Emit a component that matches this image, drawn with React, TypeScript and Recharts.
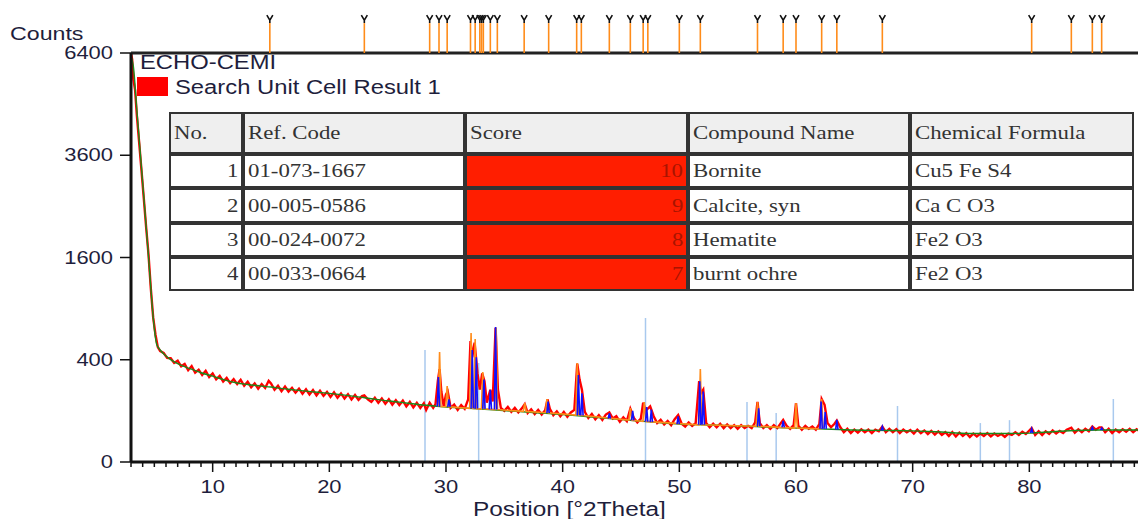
import React from 'react';
import { ComposedChart, Line, XAxis, YAxis, ReferenceLine } from 'recharts';

type Pt = [number, number];
type Peak = [number, number, number]; // position, base, top

const yTicks = [0, 400, 1600, 3600, 6400];
const xMajor = [10, 20, 30, 40, 50, 60, 70, 80];

const obsStart: Pt[] = [
  [3.0, 6400], [3.1, 6200], [3.2, 5600], [3.35, 5300], [3.5, 4600], [3.7, 3900], [3.9, 3250],
  [4.1, 2650], [4.3, 2100], [4.5, 1650], [4.7, 1150], [4.9, 800], [5.1, 620], [5.3, 505], [5.5, 470],
];
const obsLow: Pt[] = [
  [5.8, 455], [6.1, 415], [6.4, 412], [6.7, 375], [7.0, 392], [7.3, 350], [7.6, 368], [7.9, 322],
  [8.2, 352], [8.5, 305], [8.8, 326], [9.1, 290], [9.4, 318], [9.7, 276], [10.0, 300], [10.3, 262],
  [10.6, 284], [10.9, 248], [11.2, 270], [11.5, 238], [11.8, 262], [12.1, 232], [12.4, 258], [12.7, 222],
  [13.0, 246], [13.3, 214], [13.6, 236], [13.9, 206], [14.2, 232], [14.5, 210], [14.8, 252], [15.0, 236],
  [15.3, 200], [15.6, 222], [15.9, 192], [16.2, 218], [16.5, 190], [16.8, 210], [17.1, 184], [17.4, 206],
  [17.7, 178], [18.0, 202], [18.3, 174], [18.6, 198], [18.9, 170], [19.2, 194], [19.5, 168], [19.8, 188],
  [20.1, 162], [20.4, 186], [20.7, 158], [21.0, 180], [21.3, 154], [21.6, 176], [21.9, 150], [22.2, 172],
  [22.5, 148], [22.8, 166], [23.0, 170], [23.3, 150], [23.6, 138], [23.9, 158], [24.2, 134], [24.5, 154],
  [24.8, 130], [25.1, 150], [25.4, 126], [25.7, 146], [26.0, 124], [26.3, 144], [26.6, 118], [26.9, 138],
  [27.2, 114], [27.5, 134], [27.8, 112], [28.1, 132], [28.3, 104], [28.6, 134],
];
const obsMid: Pt[] = [
  [28.9, 112], [29.1, 128], [29.3, 250], [29.45, 330], [29.6, 190], [29.8, 120], [30.0, 175], [30.15, 190],
  [30.4, 112], [30.7, 126], [31.0, 104], [31.3, 124], [31.6, 108], [31.9, 150], [32.1, 560], [32.25, 420],
  [32.45, 545], [32.7, 300], [32.9, 200], [33.1, 300], [33.3, 250], [33.5, 135], [33.8, 200], [34.0, 140],
  [34.25, 690], [34.45, 200], [34.7, 112], [35.0, 100], [35.3, 116], [35.6, 96], [35.9, 112], [36.2, 94],
  [36.5, 110], [36.75, 128], [37.0, 92], [37.3, 106], [37.6, 88], [37.9, 104], [38.2, 86], [38.5, 102],
  [38.7, 150], [38.9, 108], [39.2, 84], [39.5, 98], [39.8, 80], [40.1, 96], [40.4, 78], [40.7, 94],
  [41.0, 104], [41.25, 370], [41.45, 260], [41.65, 200], [41.9, 96], [42.2, 74], [42.5, 88], [42.8, 70],
  [43.1, 84], [43.4, 68], [43.7, 86], [44.0, 94], [44.3, 72], [44.6, 80], [44.9, 62], [45.2, 76],
  [45.5, 64], [45.8, 108], [46.1, 74], [46.4, 60], [46.7, 72], [46.9, 135], [47.1, 100], [47.5, 118],
  [47.8, 80], [48.1, 58], [48.4, 68], [48.7, 54], [49.0, 64], [49.3, 52], [49.6, 70], [49.9, 84],
  [50.2, 56], [50.5, 48], [50.8, 60], [51.1, 50], [51.4, 58], [51.7, 250], [51.85, 180], [52.05, 200],
  [52.3, 58], [52.6, 46], [52.9, 56], [53.2, 46], [53.5, 56], [53.8, 44], [54.1, 54], [54.4, 44],
  [54.7, 52], [55.0, 42], [55.3, 52], [55.6, 44], [55.9, 50], [56.2, 44], [56.5, 60], [56.7, 138], [56.9, 58],
];
const obsHigh: Pt[] = [
  [57.2, 44], [57.5, 52], [57.8, 42], [58.1, 52], [58.4, 44], [58.7, 58], [58.9, 68], [59.2, 50],
  [59.5, 42], [59.8, 52], [60.0, 133], [60.2, 50], [60.5, 40], [60.8, 50], [61.1, 42], [61.4, 48],
  [61.7, 40], [62.0, 55], [62.2, 152], [62.45, 125], [62.7, 58], [63.0, 46], [63.3, 56], [63.5, 66],
  [63.8, 46], [64.1, 34], [64.4, 42], [64.7, 32], [65.0, 40], [65.3, 33], [65.6, 41], [65.9, 34],
  [66.2, 40], [66.5, 32], [66.8, 40], [67.1, 36], [67.4, 48], [67.7, 34], [68.0, 42], [68.3, 34],
  [68.6, 41], [68.9, 32], [69.2, 40], [69.5, 34], [69.8, 39], [70.1, 31], [70.4, 40], [70.7, 32],
  [71.0, 38], [71.3, 30], [71.6, 37], [71.9, 29], [72.2, 36], [72.5, 28], [72.8, 34], [73.1, 26],
  [73.4, 34], [73.7, 25], [74.0, 33], [74.3, 26], [74.6, 32], [74.9, 24], [75.2, 31], [75.5, 25],
  [75.8, 31], [76.1, 26], [76.4, 32], [76.7, 25], [77.0, 31], [77.3, 26], [77.6, 30], [77.9, 24],
  [78.2, 31], [78.5, 28], [78.8, 34], [79.1, 28], [79.4, 35], [79.7, 30], [80.0, 38], [80.2, 44],
  [80.5, 28], [80.8, 36], [81.1, 28], [81.4, 36], [81.7, 30], [82.0, 38], [82.3, 31], [82.6, 37],
  [82.9, 32], [83.2, 40], [83.6, 45], [83.9, 33], [84.2, 41], [84.5, 34], [84.8, 42], [85.1, 36],
  [85.4, 48], [85.7, 40], [86.0, 46], [86.2, 46], [86.5, 34], [86.8, 42], [87.1, 32], [87.4, 40],
  [87.7, 34], [88.0, 41], [88.3, 35], [88.6, 42], [88.9, 34], [89.2, 41], [89.5, 36], [89.8, 40],
];

// fitted background
const background: Pt[] = [
  [3.0, 6300], [3.2, 6000], [3.5, 4740], [4.0, 2980], [4.5, 1620], [4.8, 960], [5.0, 680], [5.2, 530],
  [5.5, 480], [6, 430], [6.5, 395], [7, 370], [8, 335], [9, 305], [10, 282], [11, 258], [12, 240],
  [13, 230], [14, 222], [15, 215], [16, 206], [17, 199], [18, 192], [19, 186], [20, 180], [22, 166],
  [24, 150], [26, 137], [28, 124], [30, 116], [32, 110], [34, 104], [36, 98], [38, 92], [40, 86],
  [42, 79], [44, 72], [46, 66], [48, 60], [50, 55], [52, 53], [55, 50], [58, 46], [60, 44], [62, 42],
  [65, 39], [68, 38], [70, 37], [72, 35], [75, 31], [78, 31], [80, 32], [82, 35], [84, 38], [86, 39],
  [88, 39], [90, 39],
];

const orangePeaks: Peak[] = [
  [29.45, 118, 463], [30.1, 117, 221], [32.15, 110, 636], [32.5, 109, 578], [33.15, 108, 310],
  [34.3, 105, 690], [36.75, 98, 133], [38.65, 93, 152], [41.25, 84, 375], [45.8, 67, 111],
  [47.0, 63, 138], [51.8, 53, 331], [56.7, 49, 138], [60.0, 44, 133], [62.2, 42, 152],
];
const bluePeaks: Peak[] = [
  [29.35, 118, 276], [30.25, 116, 150], [32.25, 110, 480], [32.6, 109, 420], [33.25, 108, 260],
  [33.8, 106, 200], [34.25, 105, 697], [38.75, 92, 140], [41.35, 84, 290], [41.65, 83, 180],
  [44.0, 72, 90], [46.0, 66, 100], [47.2, 62, 115], [47.6, 61, 105], [49.9, 55, 80], [51.75, 53, 250],
  [52.05, 53, 190], [56.8, 49, 110], [58.9, 46, 65], [62.15, 42, 140], [62.5, 42, 95], [63.5, 40, 68],
  [67.4, 38, 48], [80.2, 32, 42], [85.4, 39, 46], [86.2, 39, 44],
];

// reference pattern sticks (light blue)
const refSticks: Pt[] = [
  [28.2, 480], [32.8, 375], [47.1, 793], [55.8, 138], [58.3, 92], [68.7, 120], [75.8, 58], [78.3, 67], [87.2, 152],
];

// peak list markers above the plot
const peakMarks = [
  14.9, 23.0, 28.6, 29.4, 30.1, 32.1, 32.5, 32.9, 33.05, 33.2, 33.8, 34.4, 36.7, 38.8, 41.2, 41.6, 44.0,
  45.8, 46.9, 47.3, 50.0, 51.8, 56.7, 58.9, 60.0, 62.2, 63.5, 67.4, 80.2, 83.6, 85.4, 86.2,
];
const markTop = 7370;

const tableHead = ['No.', 'Ref. Code', 'Score', 'Compound Name', 'Chemical Formula'];
const refCodes = ['01-073-1667', '00-005-0586', '00-024-0072', '00-033-0664'];
const scores = [10, 9, 8, 7];
const compounds = ['Bornite', 'Calcite, syn', 'Hematite', 'burnt ochre'];
const formulas = ['Cu5 Fe S4', 'Ca C O3', 'Fe2 O3', 'Fe2 O3'];

const colEdges = [170, 244, 466, 689, 911, 1135];
const rowEdges = [113, 155, 189, 224, 258, 292];

const SANS = '"Liberation Sans", Arial, sans-serif';
const SERIF = '"Liberation Serif", "Times New Roman", serif';
const INK = '#1e1e3c';
const STRETCH = 1.22;

const toRows = (pts: Pt[]) => pts.map(([x, y]) => ({ x, y }));
const observed = toRows([...obsStart, ...obsLow, ...obsMid, ...obsHigh]);
const bgRows = toRows(background);
const orangeRows = orangePeaks.flatMap(([x, b, t]) => [
  { x: x - 0.12, y: b }, { x, y: t }, { x: x + 0.12, y: b },
]);
const blueRows = bluePeaks.flatMap(([x, b, t]) => [
  { x: x - 0.1, y: b }, { x, y: t }, { x: x + 0.1, y: b }, { x: x + 0.101, y: null },
]);
const xTicks = Array.from({ length: 87 }, (_, i) => i + 3);

function XTick({ x, y, payload }: any) {
  const v = payload.value;
  const major = xMajor.includes(v);
  return (
    <g>
      <line x1={x} x2={x} y1={y} y2={y + (major ? 10 : 5)} stroke="#111" strokeWidth={1.5} />
      {major && (
        <text transform={`translate(${x},${y + 31}) scale(${STRETCH},1)`} textAnchor="middle"
          fontFamily={SANS} fontSize={18} fill={INK}>{v}</text>
      )}
    </g>
  );
}

function YTick({ x, y, payload }: any) {
  return (
    <text transform={`translate(${x},${y + 6}) scale(${STRETCH},1)`} textAnchor="end"
      fontFamily={SANS} fontSize={18} fill={INK}>{payload.value}</text>
  );
}

function MarkShape(p: any) {
  const x = p.x1;
  const top = Math.min(p.y1, p.y2);
  const bot = Math.max(p.y1, p.y2);
  return (
    <g>
      <line x1={x} x2={x} y1={top} y2={bot} stroke="#ff8c1a" strokeWidth={1.6} />
      <path d={`M${x - 3},${top - 8} L${x},${top - 3} L${x + 3},${top - 8} M${x},${top - 3} L${x},${top}`}
        stroke="#111" strokeWidth={1.6} fill="none" />
    </g>
  );
}

function Txt({ left, top, size, family = SANS, color = INK, children, origin = 'left center' }: any) {
  return (
    <div style={{ position: 'absolute', left, top, fontFamily: family, fontSize: size, color, whiteSpace: 'nowrap',
      lineHeight: 1, transform: `scaleX(${STRETCH})`, transformOrigin: origin }}>{children}</div>
  );
}

function ResultTable() {
  const rows = refCodes.map((code, i) => [String(i + 1), code, String(scores[i]), compounds[i], formulas[i]]);
  const cells: React.ReactNode[] = [];
  [tableHead, ...rows].forEach((row, r) => {
    row.forEach((val, c) => {
      const left = colEdges[c];
      const width = colEdges[c + 1] - left;
      const top = rowEdges[r];
      const height = rowEdges[r + 1] - top;
      const isScore = r > 0 && c === 2;
      const right = r > 0 && (c === 0 || c === 2);
      cells.push(
        <div key={`${r}-${c}`} style={{
          position: 'absolute', left, top, width, height, boxSizing: 'border-box',
          border: '2px solid #333', marginLeft: -1, marginTop: -1,
          background: r === 0 ? '#efefef' : isScore ? '#ff1e00' : '#fff',
          display: 'flex', alignItems: 'center', justifyContent: right ? 'flex-end' : 'flex-start',
          padding: '0 3px', fontFamily: SERIF, fontSize: 19, color: isScore ? '#a81400' : '#333',
        }}>
          <span style={{ display: 'inline-block', transform: `scaleX(1.2)`,
            transformOrigin: right ? 'right center' : 'left center', whiteSpace: 'nowrap' }}>{val}</span>
        </div>,
      );
    });
  });
  return <>{cells}</>;
}

export default function App() {
  return (
    <div style={{ position: 'absolute', left: 0, top: 0, width: 1138, height: 519, overflow: 'hidden', background: '#fff' }}>
      <ComposedChart width={1150} height={519} margin={{ top: 53, right: 4, bottom: 0, left: 0 }}>
        <XAxis type="number" dataKey="x" domain={[3, 90]} allowDataOverflow ticks={xTicks} interval={0}
          tick={<XTick />} tickLine={false} tickSize={0} tickMargin={0} height={57}
          axisLine={{ stroke: '#111', strokeWidth: 3 }} />
        <YAxis type="number" scale="sqrt" domain={[0, 6400]} ticks={yTicks} interval={0} width={131}
          tick={<YTick />} tickSize={11} tickMargin={7}
          tickLine={{ stroke: '#111', strokeWidth: 1.5 }} axisLine={{ stroke: '#111', strokeWidth: 3 }} />
        {refSticks.map(([x, h]) => (
          <ReferenceLine key={`r${x}`} segment={[{ x, y: 0 }, { x, y: h }]} stroke="#a9c9ee" strokeWidth={1.5} />
        ))}
        <Line data={observed} dataKey="y" type="linear" stroke="#ff0000" strokeWidth={2.4} dot={false}
          isAnimationActive={false} />
        <Line data={bgRows} dataKey="y" type="monotone" stroke="#1a8a1a" strokeWidth={1.4} dot={false}
          isAnimationActive={false} />
        <Line data={orangeRows} dataKey="y" type="linear" stroke="#ff8c1a" strokeWidth={1.6} dot={false}
          isAnimationActive={false} />
        <Line data={blueRows} dataKey="y" type="linear" stroke="#1010ff" strokeWidth={1.6} dot={false}
          connectNulls={false} isAnimationActive={false} />
        <ReferenceLine y={6400} stroke="#222" strokeWidth={3} />
        {peakMarks.map((x) => (
          <ReferenceLine key={`m${x}`} segment={[{ x, y: 6400 }, { x, y: markTop }]} ifOverflow="visible"
            shape={MarkShape} />
        ))}
      </ComposedChart>

      <Txt left={10} top={24} size={19}>Counts</Txt>
      <Txt left={140} top={53} size={19.5}>ECHO-CEMI</Txt>
      <div style={{ position: 'absolute', left: 137, top: 77, width: 31, height: 19, background: '#ff0000' }} />
      <Txt left={175} top={78} size={19.5}>Search Unit Cell Result 1</Txt>
      <Txt left={473} top={499} size={20}>Position [°2Theta]</Txt>
      <ResultTable />
    </div>
  );
}
